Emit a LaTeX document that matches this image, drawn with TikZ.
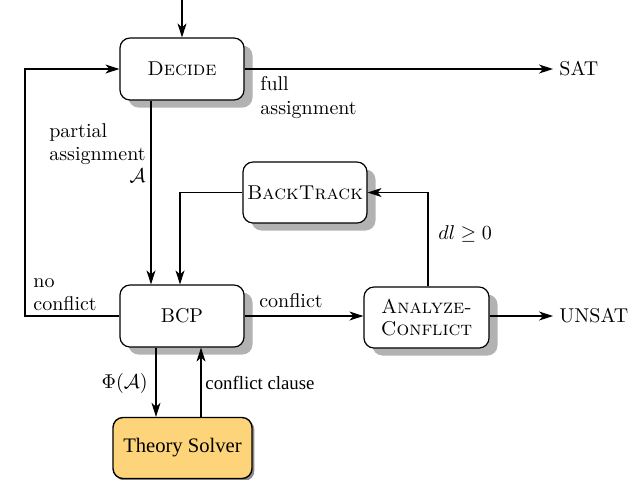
\documentclass[tikz,border=0pt]{standalone}
\usepackage{fontspec}
\newfontfamily\timesf{Liberation Serif}
\usetikzlibrary{arrows.meta,shadows}
\definecolor{solverfill}{RGB}{253,212,122}
\begin{document}
\begin{tikzpicture}[x=0.5pt,y=-0.5pt,
  arr/.style={line width=0.55pt,-{Stealth[length=7pt,width=4.5pt,inset=2pt]}},
  box/.style={draw,line width=0.6pt,rounded corners=5pt,fill=white,
    minimum width=62pt,minimum height=31pt,inner sep=1pt,align=center,
    drop shadow={shadow xshift=4.25pt,shadow yshift=-3.75pt,fill=black!30,opacity=1}},
  solver/.style={draw,line width=0.7pt,rounded corners=5pt,fill=solverfill,
    minimum width=69.5pt,minimum height=30.5pt,inner sep=1pt,
    drop shadow={shadow xshift=1.2pt,shadow yshift=-1.2pt,fill=black,opacity=0.45},
    font=\timesf\fontsize{10.3}{12}\selectfont},
  lbl/.style={inner sep=0pt,font=\fontsize{10}{11.5}\selectfont}
]
\useasboundingbox (0,0) rectangle (641,479);

\node[box] (decide) at (182,69) {\textsc{Decide}};
\node[box] (bcp) at (182,316) {BCP};
\node[box,minimum height=30.5pt] (backtrack) at (305,192.5) {\textsc{BackTrack}};
\node[box,minimum height=30.5pt,minimum width=62.5pt] (analyze) at (426.5,317.5) {\textsc{Analyze-}\\[-1pt]\textsc{Conflict}};
\node[solver] (theory) at (182.5,448) {Theory Solver};

\node[anchor=west,inner sep=3pt] (sat) at (553,69) {SAT};
\node[anchor=west,inner sep=3pt] (unsat) at (553,316) {UNSAT};

\coordinate (start) at (182,0);
\coordinate (loop) at (25,316);

% connectors
\draw[arr] (start) -- (decide.north);
\draw[arr] (decide.east) -- (sat.west);
\draw[arr] ([xshift=-15.5pt]decide.south) -- ([xshift=-15.5pt]bcp.north);
\draw[arr] (backtrack.west) -| ([xshift=-1pt]bcp.north);
\draw[arr] ([xshift=0.75pt]analyze.north) |- (backtrack.east);
\draw[arr] (bcp.east) -- (bcp.east -| analyze.west);
\draw[arr] (analyze.east |- unsat.west) -- (unsat.west);
\draw[arr] (bcp.west) -- (loop) |- (decide.west);
\draw[arr] ([xshift=-13pt]bcp.south) -- ([xshift=-13pt]bcp.south |- theory.north);
\draw[arr] ([xshift=9.5pt]bcp.south |- theory.north) -- ([xshift=9.5pt]bcp.south);

% labels
\node[lbl,anchor=west,align=left,font=\fontsize{10}{12}\selectfont] (lfull) at (260,97) {full\\assignment};
\node[lbl,anchor=east] (lpartial) at (146,155) {\begin{tabular}{@{}l@{}}partial\\assignment\\[-0.5pt]\hfill$\mathcal{A}$\end{tabular}};
\node[lbl,anchor=west,align=left] (lnoconf) at (33,295) {no\\conflict};
\node[lbl] (lconf) at (291,301) {conflict};
\node[lbl,anchor=west] (ldl) at (438,234) {$dl \geq 0$};
\node[lbl,anchor=east] (lphi) at (148,383) {$\Phi(\mathcal{A})$};
\node[lbl,anchor=west,font=\timesf\fontsize{9.4}{11}\selectfont] (lclause) at (205,383) {conflict clause};
\end{tikzpicture}
\end{document}
